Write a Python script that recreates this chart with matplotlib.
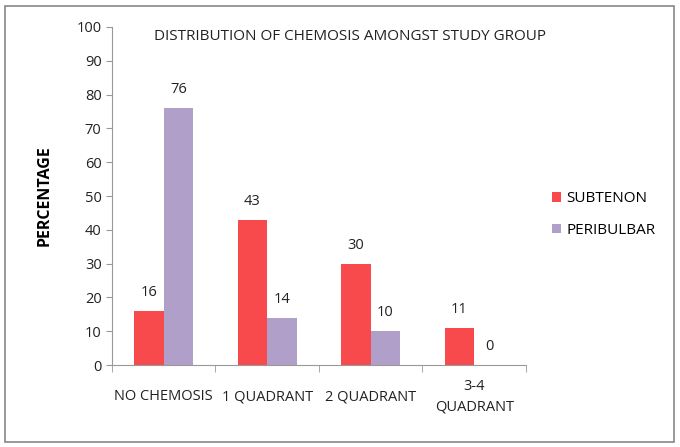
import numpy as np
import matplotlib.pyplot as plt
from matplotlib.patches import Rectangle

categories = ['NO CHEMOSIS', '1 QUADRANT', '2 QUADRANT', '3-4\nQUADRANT']
subtenon = [16, 43, 30, 11]
peribulbar = [76, 14, 10, 0]

plt.rcParams['font.family'] = ['Open Sans', 'DejaVu Sans']

fig = plt.figure(figsize=(6.8, 4.47), dpi=100)
ax = fig.add_axes([0.1647, 0.1834, 0.6088, 0.7562])

x = np.arange(len(categories))
w = 0.285
red = '#f84a4d'
purple = '#b09fc8'
b1 = ax.bar(x - w / 2, subtenon, w, color=red, label='SUBTENON')
b2 = ax.bar(x + w / 2, peribulbar, w, color=purple, label='PERIBULBAR')

for bars, vals in ((b1, subtenon), (b2, peribulbar)):
    for b, v in zip(bars, vals):
        ax.annotate(str(v), (b.get_x() + b.get_width() / 2, v), xytext=(0, 8),
                    textcoords='offset points', ha='center', va='bottom',
                    fontsize=10.5, color='#222222')

ax.set_xlim(-0.5, 3.5)
ax.set_ylim(0, 100)
ax.set_yticks(range(0, 101, 10))
ax.set_xticks(x)
ax.set_xticklabels(categories, fontsize=10.5, color='#222222',
                   va='center', linespacing=1.5)
ax.set_xticks(np.arange(-0.5, 4, 1), minor=True)
ax.tick_params(axis='x', which='major', length=0, pad=23)
ax.tick_params(axis='x', which='minor', length=5, color='#999999')
ax.tick_params(axis='y', length=4, color='#999999', labelsize=10.5, labelcolor='#222222')
for side in ('top', 'right'):
    ax.spines[side].set_visible(False)
for side in ('left', 'bottom'):
    ax.spines[side].set_color('#999999')

ax.set_ylabel('PERCENTAGE', fontweight='bold', fontsize=11.5, labelpad=17)

fig.text(0.514, 0.918, 'DISTRIBUTION OF CHEMOSIS AMONGST STUDY GROUP',
         ha='center', va='center', fontsize=11, color='#222222')

ax.legend(loc='center left', bbox_to_anchor=(1.03, 0.445), frameon=False,
          fontsize=11, handlelength=0.6, handleheight=0.6, handletextpad=0.35,
          labelspacing=1.1)

fig.patches.append(Rectangle((0.008, 0.012), 0.983, 0.975, transform=fig.transFigure,
                             fill=False, edgecolor='#888888', linewidth=1.2))

fig.savefig('out.png', dpi=100)
